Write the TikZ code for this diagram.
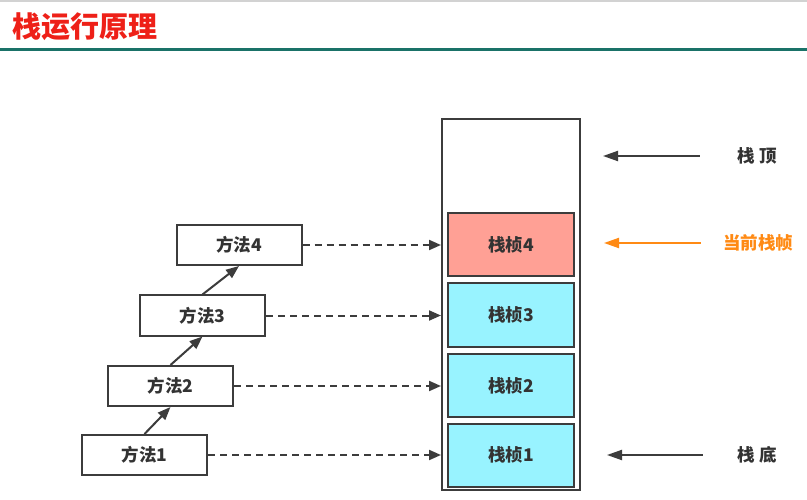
\documentclass[tikz,border=0pt]{standalone}
\usepackage{fontspec}
\setmainfont{Noto Sans CJK SC}
\usetikzlibrary{arrows.meta,positioning}

\definecolor{linegray}{HTML}{3C3C3C}
\definecolor{textgray}{HTML}{333333}
\definecolor{titlered}{HTML}{EE2018}
\definecolor{ruleteal}{HTML}{1A7268}
\definecolor{curred}{HTML}{FFA095}
\definecolor{framecyan}{HTML}{98F3FF}
\definecolor{curorange}{HTML}{FF8A14}

\begin{document}
\begin{tikzpicture}[x=1pt, y=-1pt, >={Triangle[length=13pt,width=10pt]}, line width=2pt]
  \tikzstyle{method}=[draw=linegray, fill=white, minimum width=125pt, minimum height=40pt,
    inner sep=0pt, text=textgray, font=\fontsize{17.5}{17.5}\selectfont\bfseries]
  \tikzstyle{frame}=[method, minimum width=126pt, minimum height=63pt]
  \tikzstyle{side}=[text=textgray, font=\fontsize{17.5}{17.5}\selectfont\bfseries]
  \tikzstyle{call}=[->, draw=linegray]
  \tikzstyle{push}=[->, draw=linegray, dash pattern=on 7pt off 5pt,
    >={Triangle[length=12pt,width=10pt]}]
  \tikzstyle{point}=[->, draw=linegray, >={Triangle[length=15pt,width=10pt]}]

  \useasboundingbox[fill=white] (0,0) rectangle (807,500);

  % title and rule
  \draw[gray!35, line width=2pt] (0,1) -- (807,1);
  \node[anchor=west, text=titlered, font=\fontsize{29}{29}\selectfont\bfseries] (title) at (8,27) {栈运行原理};
  \draw[ruleteal, line width=3pt] (0,50) -- (807,50);

  % the stack
  \node[draw=linegray, minimum width=138pt, minimum height=371pt] (stack) at (511,304.5) {};
  \node[frame, fill=framecyan] (f1) at (511,455)   {栈桢1};
  \node[frame, fill=framecyan] (f2) at (511,385.5) {栈桢2};
  \node[frame, fill=framecyan] (f3) at (511,315)   {栈桢3};
  \node[frame, fill=curred]    (f4) at (511,244.5) {栈桢4};

  % methods
  \node[method] (m1) at (144.5,455) {方法1};
  \node[method] (m2) at (170.5,386) {方法2};
  \node[method] (m3) at (202.5,315.5) {方法3};
  \node[method] (m4) at (239,245) {方法4};

  \draw[call] (m1.north) -- (m2.south);
  \draw[call] (m2.north) -- (m3.south);
  \draw[call] (m3.north) -- (m4.south);

  \foreach \m in {m1,m2,m3,m4}
    \draw[push] (\m.east) -- (\m.east -| stack.west);

  % labels on the right
  \node[side] (top) at (757,156) {栈\hspace{0.25em}顶};
  \node[side, text=curorange] (cur) at (758,243) {当前栈帧};
  \node[side] (bot) at (757,455) {栈\hspace{0.25em}底};
  \coordinate (topTip) at (603,156);
  \coordinate (curTip) at (604,243);
  \coordinate (botTip) at (607,455);

  \draw[point, shorten <=33pt] (top.west) -- (topTip);
  \draw[point, draw=curorange, shorten <=18pt] (cur.west) -- (curTip);
  \draw[point, shorten <=30pt] (bot.west) -- (botTip);
\end{tikzpicture}
\end{document}
